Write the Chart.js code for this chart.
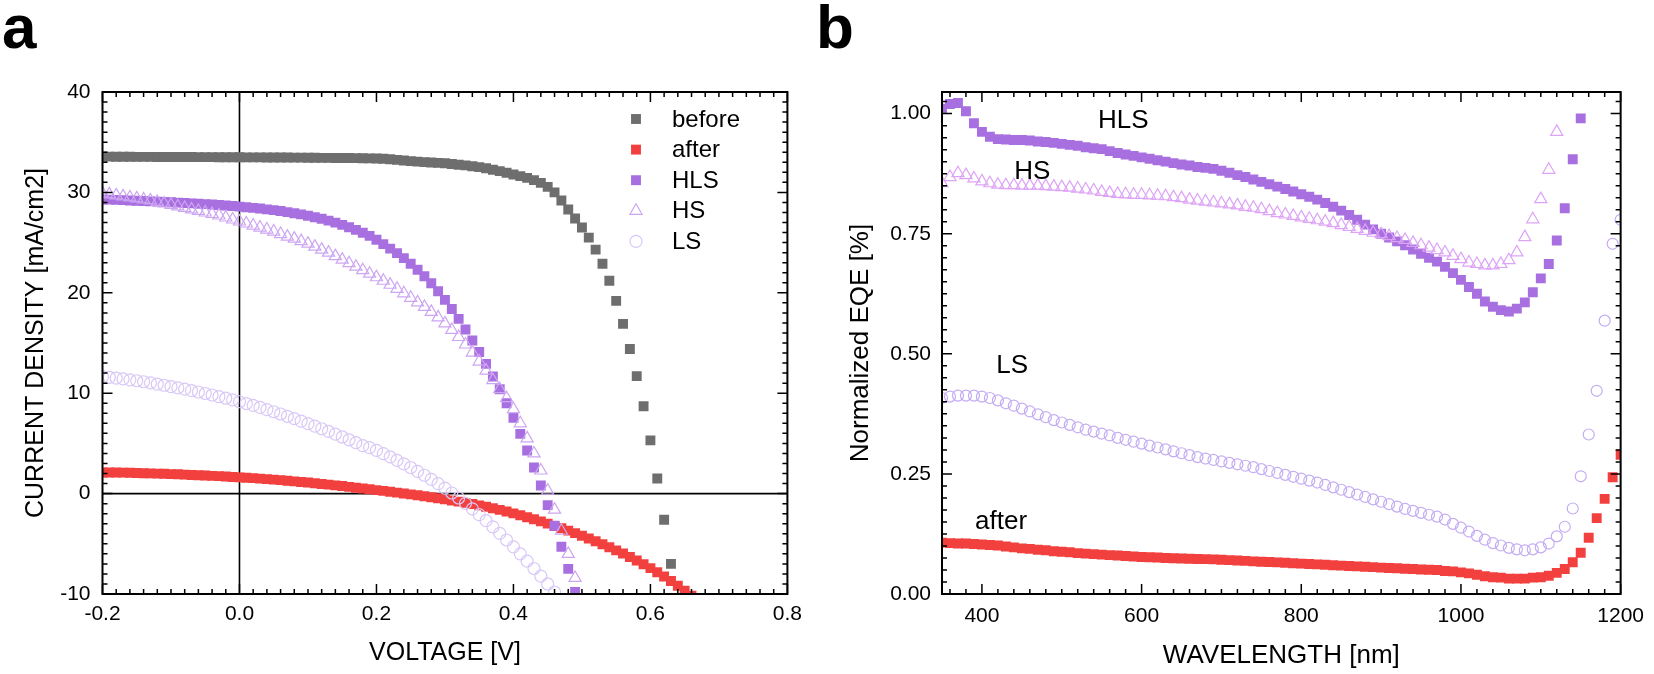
<!DOCTYPE html>
<html>
<head>
<meta charset="utf-8">
<title>J-V and EQE</title>
<script src="https://cdn.jsdelivr.net/npm/chart.js@4.4.0/dist/chart.umd.min.js"></script>
<style>
  html, body { margin: 0; padding: 0; background: #fff; }
  #page { position: relative; width: 1654px; height: 674px; overflow: hidden; }
  .panel { position: absolute; top: 0; height: 674px; }
  #panelA { left: 0; width: 810px; }
  #panelB { left: 810px; width: 844px; }
  canvas { display: block; }
</style>
</head>
<body>
<div id="page">
  <div class="panel" id="panelA"><canvas id="jv"></canvas></div>
  <div class="panel" id="panelB"><canvas id="eqe"></canvas></div>
</div>
<script>
const FONT = "'Liberation Sans', Arial, Helvetica, sans-serif";
Chart.defaults.font.family = FONT;
Chart.defaults.color = '#000';

// ---- panel a: J-V curves ----
const voltage = [
  -0.20, -0.19, -0.18, -0.17, -0.16, -0.15, -0.14, -0.13, -0.12, -0.11,
  -0.10, -0.09, -0.08, -0.07, -0.06, -0.05, -0.04, -0.03, -0.02, -0.01,
  0.00, 0.01, 0.02, 0.03, 0.04, 0.05, 0.06, 0.07, 0.08, 0.09,
  0.10, 0.11, 0.12, 0.13, 0.14, 0.15, 0.16, 0.17, 0.18, 0.19,
  0.20, 0.21, 0.22, 0.23, 0.24, 0.25, 0.26, 0.27, 0.28, 0.29,
  0.30, 0.31, 0.32, 0.33, 0.34, 0.35, 0.36, 0.37, 0.38, 0.39,
  0.40, 0.41, 0.42, 0.43, 0.44, 0.45, 0.46, 0.47, 0.48, 0.49,
  0.50, 0.51, 0.52, 0.53, 0.54, 0.55, 0.56, 0.57, 0.58, 0.59,
  0.60, 0.61, 0.62, 0.63, 0.64, 0.65, 0.66, 0.67
];
const jBefore = [
  33.56, 33.56, 33.55, 33.55, 33.55, 33.54, 33.54, 33.54, 33.53, 33.53,
  33.53, 33.52, 33.52, 33.52, 33.51, 33.51, 33.51, 33.50, 33.50, 33.50,
  33.50, 33.49, 33.49, 33.49, 33.48, 33.48, 33.47, 33.47, 33.46, 33.46,
  33.45, 33.45, 33.44, 33.44, 33.43, 33.42, 33.42, 33.41, 33.40, 33.39,
  33.38, 33.35, 33.30, 33.24, 33.18, 33.12, 33.07, 33.02, 32.98, 32.94,
  32.90, 32.83, 32.76, 32.69, 32.61, 32.52, 32.40, 32.26, 32.12, 31.96,
  31.78, 31.62, 31.45, 31.22, 30.95, 30.55, 30.00, 29.20, 28.30, 27.40,
  26.50, 25.50, 24.30, 22.90, 21.20, 19.20, 16.90, 14.40, 11.70, 8.70,
  5.30, 1.50, -2.60, -7.00
];
const jAfter = [
  2.10, 2.10, 2.10, 2.09, 2.07, 2.05, 2.03, 2.01, 1.99, 1.97,
  1.94, 1.92, 1.89, 1.86, 1.83, 1.80, 1.77, 1.74, 1.70, 1.66,
  1.62, 1.58, 1.54, 1.49, 1.44, 1.39, 1.34, 1.28, 1.22, 1.16,
  1.10, 1.03, 0.96, 0.89, 0.82, 0.75, 0.67, 0.59, 0.51, 0.43,
  0.35, 0.27, 0.19, 0.10, 0.01, -0.08, -0.17, -0.27, -0.37, -0.47,
  -0.58, -0.69, -0.80, -0.92, -1.04, -1.17, -1.31, -1.46, -1.62, -1.78,
  -1.97, -2.16, -2.36, -2.56, -2.77, -2.99, -3.22, -3.45, -3.69, -3.94,
  -4.20, -4.47, -4.75, -5.04, -5.34, -5.65, -5.97, -6.31, -6.66, -7.03,
  -7.42, -7.83, -8.26, -8.71, -9.18, -9.67, -10.18, -10.70
];
const jHLS = [
  29.30, 29.28, 29.26, 29.23, 29.20, 29.17, 29.14, 29.11, 29.08, 29.05,
  29.02, 28.98, 28.95, 28.91, 28.87, 28.83, 28.79, 28.74, 28.69, 28.64,
  28.58, 28.52, 28.46, 28.39, 28.31, 28.23, 28.14, 28.04, 27.93, 27.81,
  27.68, 27.53, 27.37, 27.19, 26.99, 26.77, 26.53, 26.27, 25.98, 25.67,
  25.28, 24.85, 24.40, 23.95, 23.45, 22.90, 22.30, 21.65, 20.95, 20.15,
  19.30, 18.38, 17.40, 16.35, 15.25, 14.10, 12.92, 11.67, 10.40, 9.00,
  7.55, 5.95, 4.30, 2.60, 0.80, -1.15, -3.20, -5.30, -7.50, -9.80
];
const jHS = [
  29.90, 29.80, 29.70, 29.60, 29.50, 29.40, 29.30, 29.20, 29.05, 28.90,
  28.75, 28.60, 28.45, 28.30, 28.15, 28.00, 27.85, 27.70, 27.50, 27.30,
  27.10, 26.90, 26.70, 26.50, 26.30, 26.10, 25.85, 25.60, 25.40, 25.15,
  24.90, 24.60, 24.30, 24.00, 23.65, 23.30, 22.95, 22.60, 22.25, 21.90,
  21.55, 21.20, 20.80, 20.40, 19.95, 19.50, 19.05, 18.60, 18.10, 17.55,
  16.95, 16.30, 15.60, 14.85, 14.05, 13.15, 12.25, 11.30, 10.40, 9.50,
  8.40, 7.00, 5.50, 4.00, 2.30, 0.30, -1.60, -3.70, -6.00, -8.40
];
const jLS = [
  11.65, 11.58, 11.50, 11.42, 11.33, 11.24, 11.14, 11.03, 10.91, 10.79,
  10.66, 10.53, 10.40, 10.26, 10.12, 9.97, 9.82, 9.66, 9.50, 9.33,
  9.15, 8.97, 8.78, 8.58, 8.37, 8.15, 7.93, 7.70, 7.46, 7.22,
  6.97, 6.72, 6.46, 6.19, 5.92, 5.64, 5.36, 5.07, 4.78, 4.58,
  4.30, 3.98, 3.65, 3.31, 2.96, 2.60, 2.22, 1.83, 1.42, 0.99,
  0.54, 0.06, -0.44, -0.97, -1.52, -2.10, -2.70, -3.32, -3.96, -4.62,
  -5.30, -6.00, -6.72, -7.46, -8.22, -9.00, -9.80, -10.62
];
const jvXTicks = [-0.2, 0, 0.2, 0.4, 0.6, 0.8];
const jvXLabels = ['-0.2', '0.0', '0.2', '0.4', '0.6', '0.8'];
const jvYTicks = [-10, 0, 10, 20, 30, 40];
const jvYLabels = ['-10', '0', '10', '20', '30', '40'];

// ---- panel b: normalized EQE ----
const wavelength = [
  350, 360, 370, 380, 390, 400, 410, 420, 430, 440,
  450, 460, 470, 480, 490, 500, 510, 520, 530, 540,
  550, 560, 570, 580, 590, 600, 610, 620, 630, 640,
  650, 660, 670, 680, 690, 700, 710, 720, 730, 740,
  750, 760, 770, 780, 790, 800, 810, 820, 830, 840,
  850, 860, 870, 880, 890, 900, 910, 920, 930, 940,
  950, 960, 970, 980, 990, 1000, 1010, 1020, 1030, 1040,
  1050, 1060, 1070, 1080, 1090, 1100, 1110, 1120, 1130, 1140,
  1150, 1160, 1170, 1180, 1190, 1200
];
const eqeHLS = [
  1.010, 1.020, 1.022, 1.005, 0.980, 0.962, 0.952, 0.947, 0.946, 0.945,
  0.945, 0.944, 0.942, 0.941, 0.939, 0.937, 0.935, 0.933, 0.930, 0.928,
  0.926, 0.922, 0.918, 0.915, 0.912, 0.909, 0.906, 0.903, 0.900, 0.897,
  0.894, 0.892, 0.889, 0.887, 0.885, 0.881, 0.877, 0.872, 0.868, 0.863,
  0.858, 0.853, 0.848, 0.843, 0.838, 0.832, 0.827, 0.821, 0.814, 0.806,
  0.798, 0.789, 0.779, 0.769, 0.759, 0.750, 0.742, 0.734, 0.726, 0.717,
  0.708, 0.700, 0.692, 0.681, 0.668, 0.654, 0.639, 0.625, 0.609, 0.598,
  0.591, 0.588, 0.594, 0.607, 0.628, 0.657, 0.687, 0.736, 0.803, 0.905,
  0.990
];
const eqeHS = [
  0.855, 0.868, 0.876, 0.872, 0.865, 0.859, 0.855, 0.852, 0.851, 0.851,
  0.850, 0.850, 0.850, 0.849, 0.848, 0.847, 0.846, 0.844, 0.842, 0.840,
  0.837, 0.835, 0.833, 0.832, 0.831, 0.831, 0.830, 0.829, 0.828, 0.826,
  0.824, 0.821, 0.819, 0.817, 0.815, 0.813, 0.811, 0.809, 0.806, 0.804,
  0.801, 0.797, 0.793, 0.790, 0.787, 0.784, 0.781, 0.778, 0.775, 0.772,
  0.768, 0.764, 0.760, 0.756, 0.752, 0.749, 0.745, 0.741, 0.737, 0.731,
  0.726, 0.721, 0.716, 0.711, 0.704, 0.697, 0.690, 0.687, 0.684, 0.684,
  0.687, 0.695, 0.711, 0.743, 0.780, 0.822, 0.883, 0.962
];
const eqeLS = [
  0.408, 0.411, 0.413, 0.413, 0.413, 0.411, 0.408, 0.403, 0.397, 0.392,
  0.386, 0.380, 0.374, 0.368, 0.362, 0.357, 0.352, 0.347, 0.342, 0.338,
  0.334, 0.330, 0.325, 0.321, 0.317, 0.313, 0.309, 0.305, 0.301, 0.297,
  0.293, 0.289, 0.285, 0.282, 0.279, 0.276, 0.273, 0.270, 0.267, 0.264,
  0.260, 0.256, 0.252, 0.248, 0.244, 0.240, 0.236, 0.232, 0.227, 0.222,
  0.217, 0.212, 0.207, 0.202, 0.197, 0.192, 0.187, 0.182, 0.177, 0.173,
  0.169, 0.165, 0.161, 0.155, 0.146, 0.138, 0.130, 0.121, 0.113, 0.106,
  0.101, 0.096, 0.093, 0.091, 0.093, 0.097, 0.105, 0.120, 0.140, 0.178,
  0.245, 0.332, 0.423, 0.569, 0.729, 0.779
];
const eqeAfter = [
  0.107, 0.106, 0.105, 0.105, 0.104, 0.103, 0.102, 0.101, 0.099, 0.097,
  0.095, 0.094, 0.092, 0.091, 0.089, 0.088, 0.087, 0.085, 0.084, 0.083,
  0.082, 0.081, 0.080, 0.079, 0.078, 0.077, 0.0765, 0.076, 0.075, 0.0745,
  0.074, 0.0735, 0.073, 0.0725, 0.072, 0.0712, 0.0705, 0.0698, 0.069, 0.068,
  0.0672, 0.0665, 0.0658, 0.065, 0.064, 0.0632, 0.0625, 0.0617, 0.061, 0.060,
  0.059, 0.0582, 0.0575, 0.0567, 0.056, 0.055, 0.0542, 0.0535, 0.0527, 0.052,
  0.051, 0.0505, 0.050, 0.048, 0.047, 0.045, 0.043, 0.040, 0.037, 0.035,
  0.034, 0.032, 0.032, 0.032, 0.034, 0.035, 0.038, 0.044, 0.052, 0.066,
  0.086, 0.117, 0.158, 0.198, 0.243, 0.290
];
const eqeXTicks = [400, 600, 800, 1000, 1200];
const eqeXLabels = ['400', '600', '800', '1000', '1200'];
const eqeYTicks = [0, 0.25, 0.5, 0.75, 1.0];
const eqeYLabels = ['0.00', '0.25', '0.50', '0.75', '1.00'];

// curve names written inside panel b, placed in data units
const eqeNoteText = ['HLS', 'HS', 'LS', 'after'];
const eqeNoteX = [577, 463, 438, 424];
const eqeNoteY = [0.985, 0.878, 0.474, 0.151];

const GRAY = '#6e6e6e', RED = '#f2403f', PURPLE = '#a86fe0';

function toPoints(xs, ys) {
  return ys.map((y, i) => ({ x: xs[i], y: y }));
}

function steps(from, to, step) {
  const out = [];
  for (let v = from; v <= to + step / 2; v += step) out.push(+v.toFixed(4));
  return out;
}

function filled(label, data, color, order) {
  return {
    label, data, order,
    pointStyle: 'rect', pointRadius: 7,
    pointBackgroundColor: color, pointBorderColor: color, pointBorderWidth: 0
  };
}

function open(label, data, style, color, radius, order) {
  return {
    label, data, order,
    pointStyle: style, pointRadius: radius,
    pointBackgroundColor: 'rgba(0,0,0,0)', pointBorderColor: color, pointBorderWidth: 1.2
  };
}

// marker for the hand-placed legend
function drawMarker(ctx, ds, x, y) {
  const r = ds.pointRadius;
  ctx.beginPath();
  if (ds.pointStyle === 'rect') {
    const s = r * Math.SQRT1_2;
    ctx.rect(x - s, y - s, 2 * s, 2 * s);
    ctx.fillStyle = ds.pointBackgroundColor;
    ctx.fill();
    return;
  }
  if (ds.pointStyle === 'triangle') {
    ctx.moveTo(x, y - r);
    ctx.lineTo(x + r * 0.866, y + r * 0.5);
    ctx.lineTo(x - r * 0.866, y + r * 0.5);
    ctx.closePath();
  } else {
    ctx.arc(x, y, r, 0, Math.PI * 2);
  }
  ctx.strokeStyle = ds.pointBorderColor;
  ctx.lineWidth = ds.pointBorderWidth;
  ctx.stroke();
}

// boxed frame with inward ticks on all four sides, plus panel letter
function framePlugin(cfg) {
  return {
    id: 'frame',
    beforeDatasetsDraw(chart) {
      if (!cfg.zeroLines) return;
      const { ctx, chartArea: a, scales: { x, y } } = chart;
      const x0 = x.getPixelForValue(0), y0 = y.getPixelForValue(0);
      ctx.save();
      ctx.strokeStyle = '#000';
      ctx.lineWidth = 1.6;
      ctx.beginPath();
      ctx.moveTo(x0, a.top); ctx.lineTo(x0, a.bottom);
      ctx.moveTo(a.left, y0); ctx.lineTo(a.right, y0);
      ctx.stroke();
      ctx.restore();
    },
    afterDraw(chart) {
      const { ctx, chartArea: a, scales: { x, y } } = chart;
      ctx.save();
      ctx.strokeStyle = '#000';
      ctx.lineWidth = 1.5;
      ctx.beginPath();
      const xt = (vals, len) => vals.forEach(v => {
        if (v < x.min - 1e-9 || v > x.max + 1e-9) return;
        const p = x.getPixelForValue(v);
        ctx.moveTo(p, a.bottom); ctx.lineTo(p, a.bottom - len);
        ctx.moveTo(p, a.top); ctx.lineTo(p, a.top + len);
      });
      const yt = (vals, len) => vals.forEach(v => {
        if (v < y.min - 1e-9 || v > y.max + 1e-9) return;
        const p = y.getPixelForValue(v);
        ctx.moveTo(a.left, p); ctx.lineTo(a.left + len, p);
        ctx.moveTo(a.right, p); ctx.lineTo(a.right - len, p);
      });
      xt(cfg.xMinor, 5); xt(cfg.xMajor, 10);
      yt(cfg.yMinor, 5); yt(cfg.yMajor, 10);
      ctx.stroke();
      ctx.lineWidth = 2;
      ctx.strokeRect(a.left, a.top, a.right - a.left, a.bottom - a.top);

      ctx.fillStyle = '#000';
      ctx.font = 'bold 62px ' + FONT;
      ctx.textAlign = 'left';
      ctx.textBaseline = 'alphabetic';
      ctx.fillText(cfg.letter, cfg.letterX, 48);
      ctx.restore();
    }
  };
}

const jvLegend = {
  id: 'jvLegend',
  afterDraw(chart) {
    const ctx = chart.ctx;
    ctx.save();
    ctx.font = '24px ' + FONT;
    ctx.fillStyle = '#000';
    ctx.textAlign = 'left';
    ctx.textBaseline = 'middle';
    chart.data.datasets.forEach((ds, i) => {
      const yy = 119 + i * 30.6;
      drawMarker(ctx, ds, 636, yy);
      ctx.fillStyle = '#000';
      ctx.fillText(ds.label, 672, yy + 1);
    });
    ctx.restore();
  }
};

const eqeNotes = {
  id: 'eqeNotes',
  afterDatasetsDraw(chart) {
    const { ctx, scales: { x, y } } = chart;
    ctx.save();
    ctx.font = '26px ' + FONT;
    ctx.fillStyle = '#000';
    ctx.textAlign = 'center';
    ctx.textBaseline = 'middle';
    eqeNoteText.forEach((t, i) => {
      ctx.fillText(t, x.getPixelForValue(eqeNoteX[i]), y.getPixelForValue(eqeNoteY[i]));
    });
    ctx.restore();
  }
};

function axis(opts) {
  return {
    type: 'linear',
    min: opts.min, max: opts.max,
    afterFit: s => { if (opts.width) s.width = opts.width; if (opts.height) s.height = opts.height; },
    afterBuildTicks: s => { s.ticks = opts.ticks.map(v => ({ value: v })); },
    ticks: {
      callback: (v, i) => opts.labels[i],
      font: { size: 21 }, padding: opts.pad, maxRotation: 0, autoSkip: false, color: '#000'
    },
    grid: { display: false, drawTicks: false },
    border: { display: false },
    title: {
      display: true, text: opts.title, color: '#000',
      font: { size: opts.titleSize }, padding: opts.titlePad
    }
  };
}

new Chart(document.getElementById('jv'), {
  type: 'scatter',
  data: {
    datasets: [
      filled('before', toPoints(voltage, jBefore), GRAY, 5),
      filled('after', toPoints(voltage, jAfter), RED, 4),
      filled('HLS', toPoints(voltage, jHLS), PURPLE, 3),
      open('HS', toPoints(voltage, jHS), 'triangle', '#cda6f2', 7, 2),
      open('LS', toPoints(voltage, jLS), 'circle', '#d9c8f7', 6, 1)
    ]
  },
  options: {
    responsive: true, maintainAspectRatio: false, animation: false, events: [],
    layout: { padding: { left: 0, top: 92, right: 22.5, bottom: 0 } },
    plugins: { legend: { display: false }, tooltip: { enabled: false } },
    scales: {
      x: axis({ min: -0.2, max: 0.8, ticks: jvXTicks, labels: jvXLabels, height: 80, pad: 8,
        title: 'VOLTAGE [V]', titleSize: 25, titlePad: { top: 0, bottom: 6 } }),
      y: axis({ min: -10, max: 40, ticks: jvYTicks, labels: jvYLabels, width: 102.5, pad: 12,
        title: 'CURRENT DENSITY [mA/cm2]', titleSize: 25, titlePad: { top: 21, bottom: 0 } })
    }
  },
  plugins: [framePlugin({
    xMajor: jvXTicks, xMinor: steps(-0.2, 0.8, 0.02),
    yMajor: jvYTicks, yMinor: steps(-10, 40, 1),
    zeroLines: true, letter: 'a', letterX: 2
  }), jvLegend]
});

new Chart(document.getElementById('eqe'), {
  type: 'scatter',
  data: {
    datasets: [
      filled('after', toPoints(wavelength, eqeAfter), RED, 4),
      filled('HLS', toPoints(wavelength, eqeHLS), PURPLE, 3),
      open('HS', toPoints(wavelength, eqeHS), 'triangle', '#dda4f6', 7, 2),
      open('LS', toPoints(wavelength, eqeLS), 'circle', '#c4acf3', 5.5, 1)
    ]
  },
  options: {
    responsive: true, maintainAspectRatio: false, animation: false, events: [],
    layout: { padding: { left: 0, top: 92, right: 26, bottom: 0 } },
    plugins: { legend: { display: false }, tooltip: { enabled: false } },
    scales: {
      x: axis({ min: 350, max: 1200, ticks: eqeXTicks, labels: eqeXLabels, height: 80, pad: 10,
        title: 'WAVELENGTH [nm]', titleSize: 26, titlePad: { top: 0, bottom: 3 } }),
      y: axis({ min: 0, max: 1.045, ticks: eqeYTicks, labels: eqeYLabels, width: 132, pad: 11,
        title: 'Normalized EQE [%]', titleSize: 26, titlePad: { top: 35, bottom: 0 } })
    }
  },
  plugins: [framePlugin({
    xMajor: eqeXTicks, xMinor: steps(360, 1200, 20),
    yMajor: eqeYTicks, yMinor: steps(0, 1.025, 0.025),
    zeroLines: false, letter: 'b', letterX: 6
  }), eqeNotes]
});
</script>
</body>
</html>
